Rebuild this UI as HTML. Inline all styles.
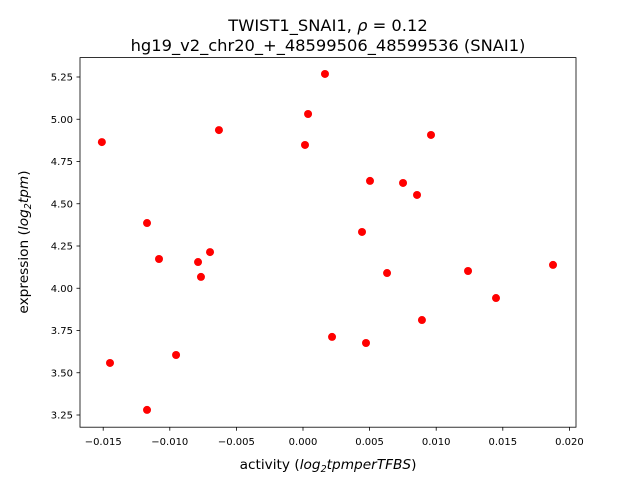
<!DOCTYPE html>
<html><head><meta charset="utf-8"><style>
body{margin:0;background:#fff;}
svg text{font-family:"DejaVu Sans","Liberation Sans",sans-serif;fill:#000;}
</style></head><body>
<svg id="chart" width="640" height="480" viewBox="0 0 640 480">
<rect x="0" y="0" width="640" height="480" fill="#fff"/>
<text x="328" y="31" font-size="16.3" text-anchor="middle">TWIST1_SNAI1, <tspan font-style="italic">ρ</tspan> = 0.12</text>
<text x="328" y="51" font-size="16.3" text-anchor="middle">hg19_v2_chr20_+_48599506_48599536 (SNAI1)</text>
<g id="points"></g>
<rect x="80" y="57.6" width="496" height="369.6" fill="none" stroke="#000" stroke-width="0.8"/>
<g id="xticks"></g>
<g id="yticks"></g>
<text x="328" y="469" font-size="13.7" text-anchor="middle">activity (<tspan font-style="italic">log</tspan><tspan font-size="9.5" dy="3" font-style="italic">2</tspan><tspan dy="-3" font-style="italic">tpmperTFBS</tspan>)</text>
<text transform="translate(28,242) rotate(-90)" font-size="13.7" text-anchor="middle">expression (<tspan font-style="italic">log</tspan><tspan font-size="9.5" dy="3" font-style="italic">2</tspan><tspan dy="-3" font-style="italic">tpm</tspan>)</text>
</svg>
<script>
const xValues=[-0.0151,-0.01449,-0.01171,-0.01171,-0.01081,-0.00953,-0.00788,-0.00766,-0.00698,-0.00631,0.00015,0.00038,0.00165,0.00218,0.00443,0.00473,0.00503,0.00631,0.00751,0.00856,0.00893,0.00961,0.01239,0.01449,0.01877];
const yValues=[4.865,3.558,4.386,3.280,4.173,3.605,4.155,4.067,4.214,4.936,4.848,5.031,5.268,3.712,4.333,3.676,4.635,4.090,4.623,4.552,3.812,4.907,4.102,3.942,4.138];
const xTicks=[-0.015,-0.010,-0.005,0.000,0.005,0.010,0.015,0.020];
const xTickLabels=["−0.015","−0.010","−0.005","0.000","0.005","0.010","0.015","0.020"];
const yTicks=[3.25,3.50,3.75,4.00,4.25,4.50,4.75,5.00,5.25];
const yTickLabels=["3.25","3.50","3.75","4.00","4.25","4.50","4.75","5.00","5.25"];
const NS="http://www.w3.org/2000/svg";
function xs(v){return 303+(v-0)*13320;}
function ys(v){return 77+(5.25-v)*169;}
const pg=document.getElementById('points');
for(let i=0;i<xValues.length;i++){
  const c=document.createElementNS(NS,'circle');
  c.setAttribute('cx',xs(xValues[i]));c.setAttribute('cy',ys(yValues[i]));
  c.setAttribute('r',4);c.setAttribute('fill','#ff0000');
  
  
  pg.appendChild(c);
}
const xg=document.getElementById('xticks');
xTicks.forEach((t,i)=>{
  const x=xs(t);
  const l=document.createElementNS(NS,'line');
  l.setAttribute('x1',x);l.setAttribute('x2',x);l.setAttribute('y1',427.2);l.setAttribute('y2',430.7);
  l.setAttribute('stroke','#000');l.setAttribute('stroke-width',0.8);
  
  
  xg.appendChild(l);
  const tx=document.createElementNS(NS,'text');
  tx.setAttribute('x',x);tx.setAttribute('y',445);tx.setAttribute('font-size',10);tx.setAttribute('text-anchor','middle');
  tx.textContent=xTickLabels[i];
  
  
  xg.appendChild(tx);
});
const yg=document.getElementById('yticks');
yTicks.forEach((t,i)=>{
  const y=ys(t);
  const l=document.createElementNS(NS,'line');
  l.setAttribute('x1',76.5);l.setAttribute('x2',80);l.setAttribute('y1',y);l.setAttribute('y2',y);
  l.setAttribute('stroke','#000');l.setAttribute('stroke-width',0.8);
  
  
  yg.appendChild(l);
  const tx=document.createElementNS(NS,'text');
  tx.setAttribute('x',73);tx.setAttribute('y',y+3.5);tx.setAttribute('font-size',10);tx.setAttribute('text-anchor','end');
  tx.textContent=yTickLabels[i];
  
  
  yg.appendChild(tx);
});
</script>
</body></html>
